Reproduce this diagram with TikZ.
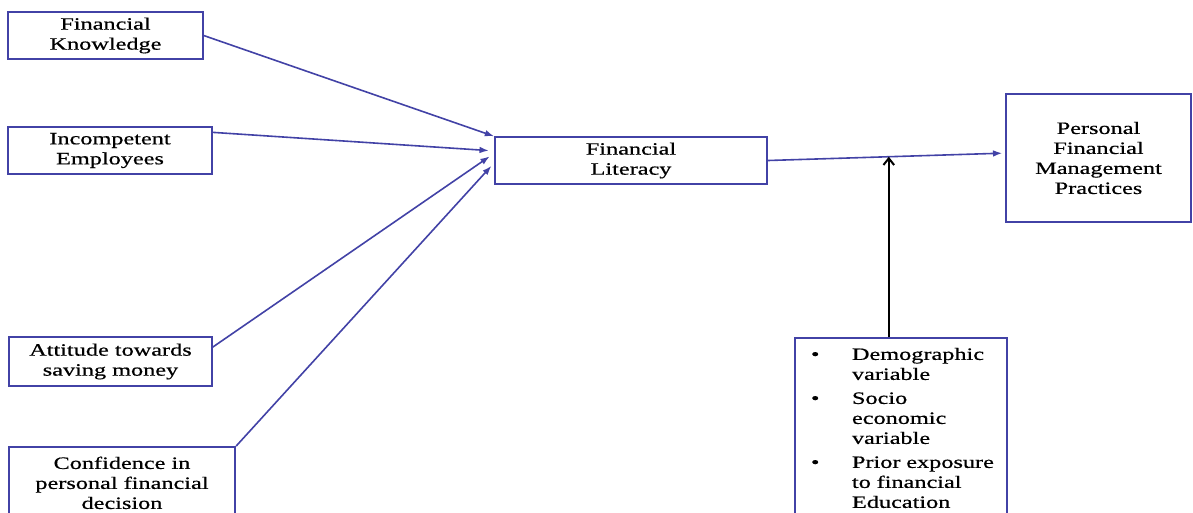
\documentclass[tikz,border=0pt]{standalone}
\usepackage{fontspec}
\setmainfont{Liberation Serif}[FakeStretch=1.4,FakeBold=0.6]
\usepackage{tikz}
\usetikzlibrary{arrows.meta,calc,positioning}
\definecolor{boxblue}{RGB}{66,66,166}

\begin{document}
\begin{tikzpicture}[x=0.75pt,y=-0.75pt,
  box/.style={draw=boxblue,line width=1.3pt,align=center,
    font=\fontsize{13}{15}\selectfont},
  link/.style={draw=boxblue,line width=1.2pt,-{Latex[length=7pt,width=5pt]}}]
  \useasboundingbox (0,0) rectangle (1193,512);
  % factors on the left
  \node[box,minimum width=146pt,minimum height=35pt] (fk) at (105.5,35.5) {Financial\\Knowledge};
  \node[box,minimum width=153pt,minimum height=35pt] (ie) at (110,150.5) {Incompetent\\Employees};
  \node[box,minimum width=152pt,minimum height=37pt] (att) at (110.5,361.5) {Attitude towards\\saving money};
  \node[box,minimum width=170pt,minimum height=54pt,anchor=north] (conf) at (122,446) {Confidence in\\personal financial\\decision};
  % centre and outcome
  \node[box,minimum width=204pt,minimum height=35pt] (lit) at (631,160.5) {Financial\\Literacy};
  \node[box,minimum width=139pt,minimum height=96pt] (pers) at (1098.5,158) {Personal\\Financial\\Management\\Practices};
  % moderating variables
  \node[box,text width=159pt,inner xsep=0pt,inner ysep=6pt,anchor=north,align=left] (bul) at (901,337) {%
    \begin{tabular}{@{\hspace{12pt}}p{30.75pt}@{}l@{}}
      \textbullet & Demographic\\
                  & variable\\[3pt]
      \textbullet & Socio\\
                  & economic\\
                  & variable\\[3pt]
      \textbullet & Prior exposure\\
                  & to financial\\
                  & Education
    \end{tabular}};
  % arrows
  \draw[link] (fk.east) -- (lit.north west);
  \draw[link,shorten >=4pt] (ie.10) -- (lit.176);
  \draw[link,shorten >=4pt] (att.8) -- (lit.177);
  \draw[link,shorten >=3pt] (conf.north east) -- (lit.181);
  \draw[link,shorten >=2pt] (lit.east) -- (pers.177);
  \coordinate (mid) at ($(lit.east)!0.51!(pers.177)$);
  \draw[line width=1.5pt,-{Straight Barb[length=5pt,width=8pt]}] (mid |- bul.north) -- (mid);
\end{tikzpicture}
\end{document}
